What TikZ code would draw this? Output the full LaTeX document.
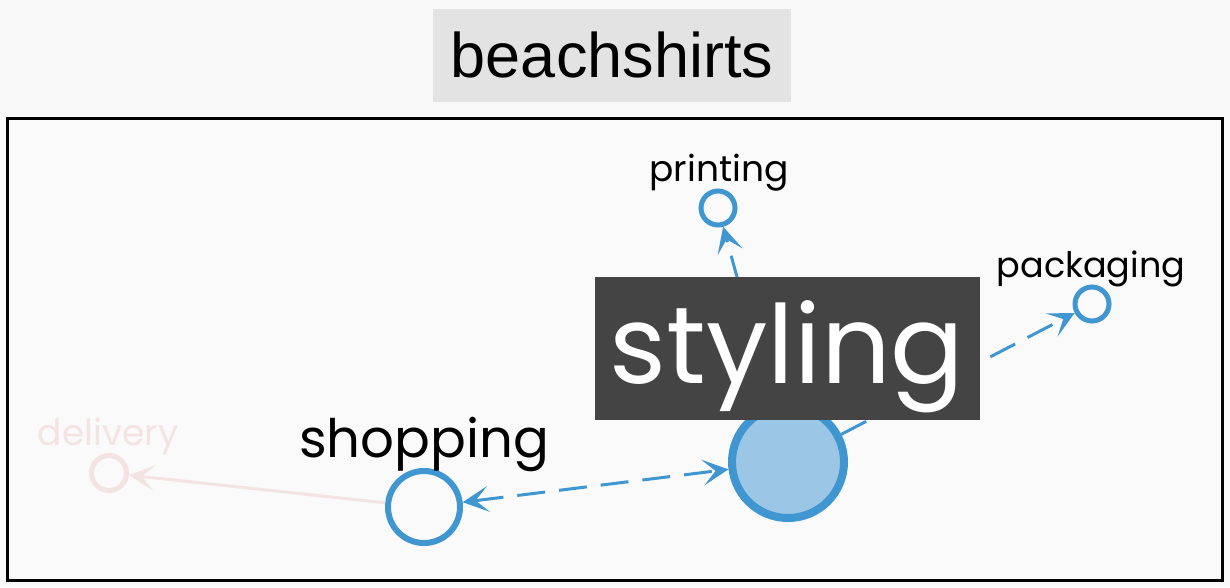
\documentclass[tikz,border=0pt]{standalone}
\usepackage{fontspec}
\setmainfont{Liberation Sans}
\newfontfamily\labelfont{Poppins}
\usetikzlibrary{arrows.meta}
\definecolor{bgc}{HTML}{F9F9F9}
\definecolor{framebg}{HTML}{FAFAFA}
\definecolor{titlebg}{HTML}{E3E3E3}
\definecolor{nodeblue}{HTML}{4096D0}
\definecolor{fillblue}{HTML}{9CC6E5}
\definecolor{paleedge}{HTML}{F3E3E2}
\definecolor{darkbox}{HTML}{444444}
\tikzset{
  tip/.tip={Stealth[length=26pt,width=26pt,inset=13pt,line width=0pt]},
  dot/.style={circle, draw=nodeblue, inner sep=0pt},
  edgeline/.style={draw=nodeblue, line width=3pt, dash pattern=on 28pt off 14pt, -tip},
  lbl/.style={inner sep=0pt, anchor=base},
}
\begin{document}
\begin{tikzpicture}[x=1pt,y=-1pt]
\fill[bgc] (0,0) rectangle (1230,587);
\useasboundingbox (0,0) rectangle (1230,587);
% title
\node[fill=titlebg, minimum width=358pt, minimum height=93pt, inner sep=0pt] (titlebox) at (612,55.5) {};
\node[lbl, font=\fontsize{63}{63}\selectfont] (title) at (612,77) {beachshirts};
% frame
\draw[line width=3pt, fill=framebg] (7,118) rectangle (1222,580);
% circles
\node[dot, line width=8pt, fill=fillblue, minimum size=112pt] (styling) at (788,462) {};
\node[dot, line width=6pt, fill=framebg, minimum size=72pt] (shopping) at (424,507) {};
\node[dot, line width=5pt, fill=framebg, minimum size=34pt] (printing) at (718,208) {};
\node[dot, line width=5pt, fill=framebg, minimum size=34pt] (packaging) at (1092,304) {};
\node[circle, draw=paleedge, line width=5pt, inner sep=0pt, minimum size=35pt] (delivery) at (109,473) {};
% edges
\draw[draw=paleedge, line width=3pt, -tip] (shopping) -- (delivery);
\draw[edgeline] (styling) -- (printing);
\draw[edgeline] (styling) -- (packaging);
\draw[edgeline, tip-tip] (shopping) -- (styling);
% labels
\node[lbl, font=\labelfont\fontsize{36}{36}\selectfont] (printinglbl) at (719,181) {printing};
\node[lbl, font=\labelfont\fontsize{35}{35}\selectfont] (packaginglbl) at (1091,277) {packaging};
\node[lbl, font=\labelfont\fontsize{36}{36}\selectfont, text=paleedge] (deliverylbl) at (108,445) {delivery};
\node[lbl, font=\labelfont\fontsize{53}{53}\selectfont] (shoppinglbl) at (424,457) {shopping};
\node[fill=darkbox, minimum width=385pt, minimum height=143pt, inner sep=0pt] (stylingbox) at (787.5,348.5) {};
\node[lbl, font=\labelfont\fontsize{109}{109}\selectfont, text=white] (stylinglbl) at (787,383) {styling};
\end{tikzpicture}
\end{document}
